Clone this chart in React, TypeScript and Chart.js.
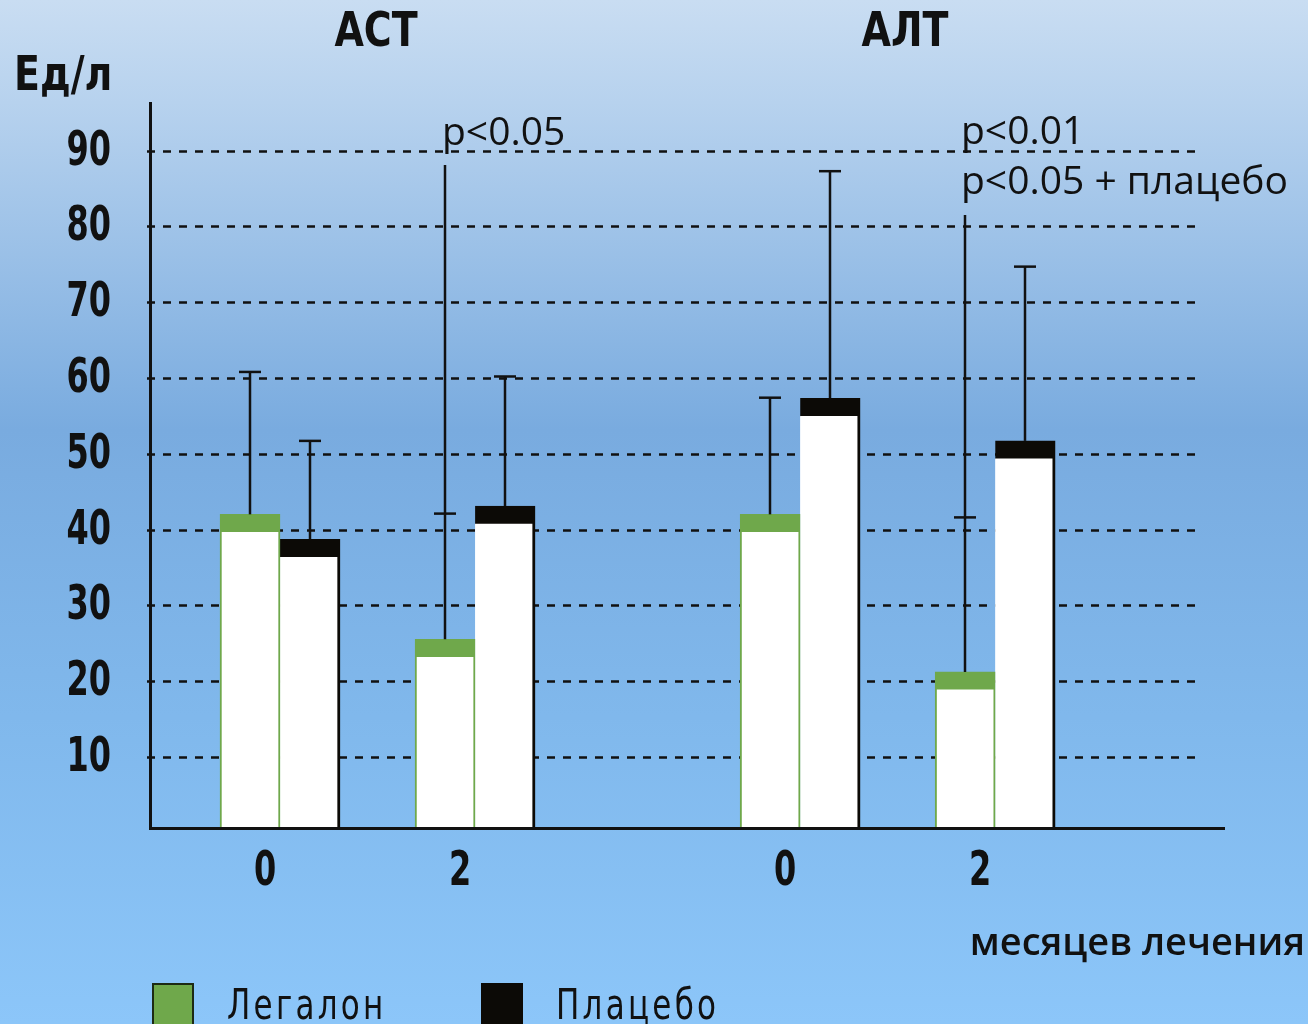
import React, { useEffect, useRef } from "react";
import { Chart, registerables } from "chart.js";

Chart.register(...registerables);

// ---- data ----
const groupTitles = ["АСТ", "АЛТ"];
const monthLabels = ["0", "2", "0", "2"];
const slots = [2, 5, 10, 13];
const seriesNames = ["Легалон", "Плацебо"];
const legalonValues = [42, 25.5, 42, 21.2];
const placeboValues = [38.7, 43.1, 57.3, 51.7];
const legalonErrTop = [60.8, 88.1, 57.4, 81.5];
const placeboErrTop = [51.7, 60.2, 87.3, 74.7];
const legalonErrCap = [true, false, true, false];
const placeboErrCap = [true, true, true, true];
const legalonMarks = [null, 42.1, null, 41.6];
const yTicks = [10, 20, 30, 40, 50, 60, 70, 80, 90];
const pNotes = ["p<0.05", "p<0.01", "p<0.05 + плацебо"];
const yUnit = "Ед/л";
const xUnit = "месяцев лечения";

const GREEN = "#6fa84b";
const BLACK = "#0c0a06";
const INK = "#111111";
const COND = "'DejaVu Sans Condensed', 'DejaVu Sans', sans-serif";
const SANS = "'Open Sans', 'Noto Sans', sans-serif";
const SX = 0.74; // horizontal squeeze for condensed digits
const SX_TITLE = 0.88; // squeeze for title letters

function drawSqueezed(
  ctx: CanvasRenderingContext2D,
  text: string,
  x: number,
  y: number,
  align: "left" | "center" | "right",
  sx: number
) {
  const w = ctx.measureText(text).width * sx;
  let left = x;
  if (align === "center") left = x - w / 2;
  else if (align === "right") left = x - w;
  ctx.save();
  ctx.translate(left, y);
  ctx.scale(sx, 1);
  ctx.textAlign = "left";
  ctx.fillText(text, 0, 0);
  ctx.restore();
}

export default function App() {
  const ref = useRef<HTMLCanvasElement | null>(null);

  useEffect(() => {
    document.body.style.margin = "0";
    document.body.style.overflow = "hidden";
    const canvas = ref.current;
    if (!canvas) return;

    const bgPlugin = {
      id: "bg",
      beforeDraw(chart: any) {
        const { ctx, width, height } = chart;
        const g = ctx.createLinearGradient(0, 0, 0, height);
        g.addColorStop(0, "#c9ddf2");
        g.addColorStop(0.1, "#b7d2ee");
        g.addColorStop(0.42, "#79abdf");
        g.addColorStop(0.7, "#80b8ec");
        g.addColorStop(1, "#8cc6f9");
        ctx.save();
        ctx.fillStyle = g;
        ctx.fillRect(0, 0, width, height);
        ctx.restore();
      },
    };

    const gridPlugin = {
      id: "dashGrid",
      beforeDatasetsDraw(chart: any) {
        const { ctx, chartArea, scales } = chart;
        ctx.save();
        ctx.strokeStyle = INK;
        ctx.lineWidth = 2.5;
        ctx.setLineDash([8, 8]);
        yTicks.forEach((v) => {
          const y = Math.round(scales.y.getPixelForValue(v)) + 0.5;
          ctx.beginPath();
          ctx.moveTo(chartArea.left - 3, y);
          ctx.lineTo(chartArea.right - 28, y);
          ctx.stroke();
        });
        ctx.restore();
      },
    };

    const errPlugin = {
      id: "errBars",
      afterDatasetsDraw(chart: any) {
        const { ctx, scales } = chart;
        const y = scales.y;
        const sets = [
          { vals: legalonValues, tops: legalonErrTop, caps: legalonErrCap, marks: legalonMarks },
          { vals: placeboValues, tops: placeboErrTop, caps: placeboErrCap, marks: [null, null, null, null] },
        ];
        ctx.save();
        ctx.strokeStyle = INK;
        ctx.lineWidth = 2.5;
        sets.forEach((s, di) => {
          const meta = chart.getDatasetMeta(di);
          meta.data.forEach((bar: any, i: number) => {
            const x = Math.round(bar.x);
            const y0 = y.getPixelForValue(s.vals[i]);
            const y1 = y.getPixelForValue(s.tops[i]);
            ctx.beginPath();
            ctx.moveTo(x, y0);
            ctx.lineTo(x, y1);
            ctx.stroke();
            if (s.caps[i]) {
              ctx.beginPath();
              ctx.moveTo(x - 11, y1);
              ctx.lineTo(x + 11, y1);
              ctx.stroke();
            }
            const m = s.marks[i];
            if (m != null) {
              const ym = y.getPixelForValue(m);
              ctx.beginPath();
              ctx.moveTo(x - 11, ym);
              ctx.lineTo(x + 11, ym);
              ctx.stroke();
            }
          });
        });
        ctx.restore();
      },
    };

    const textPlugin = {
      id: "texts",
      afterDraw(chart: any) {
        const { ctx, scales } = chart;
        ctx.save();
        ctx.fillStyle = INK;
        ctx.textBaseline = "alphabetic";
        ctx.font = `bold 48px ${COND}`;
        // y tick labels
        yTicks.forEach((v) => {
          const yy = scales.y.getPixelForValue(v);
          drawSqueezed(ctx, String(v), 111, yy + 14, "right", SX);
        });
        // x tick labels
        slots.forEach((s, i) => {
          const xx = scales.x.getPixelForValue(s) - 15;
          drawSqueezed(ctx, monthLabels[i], xx, 885, "center", SX);
        });
        // group titles
        drawSqueezed(ctx, groupTitles[0], 376, 46, "center", SX_TITLE);
        drawSqueezed(ctx, groupTitles[1], 905, 46, "center", SX_TITLE);
        // y unit
        drawSqueezed(ctx, yUnit, 14, 90, "left", SX_TITLE);
        // p notes
        ctx.font = `39px ${SANS}`;
        ctx.textAlign = "left";
        ctx.fillText(pNotes[0], 442, 145);
        ctx.fillText(pNotes[1], 961, 144);
        ctx.fillText(pNotes[2], 961, 194);
        // x unit
        ctx.font = `600 38px ${SANS}`;
        ctx.textAlign = "right";
        ctx.fillText(xUnit, 1305, 955);
        // legend
        const items = [
          { x: 152, color: GREEN, border: "#1d2a14", label: seriesNames[0], tx: 227 },
          { x: 481, color: BLACK, border: BLACK, label: seriesNames[1], tx: 556 },
        ];
        items.forEach((it) => {
          ctx.fillStyle = it.border;
          ctx.fillRect(it.x, 983, 42, 45);
          ctx.fillStyle = it.color;
          ctx.fillRect(it.x + 2, 985, 38, 43);
        });
        ctx.fillStyle = INK;
        ctx.font = `200 42px ${COND}`;
        (ctx as any).letterSpacing = "4px";
        items.forEach((it) => drawSqueezed(ctx, it.label, it.tx, 1019, "left", 0.82));
        ctx.restore();
      },
    };

    const chart = new Chart(canvas, {
      type: "bar",
      data: {
        datasets: [
          {
            label: seriesNames[0],
            data: slots.map((s, i) => ({ x: s, y: legalonValues[i] })),
            backgroundColor: "#ffffff",
            borderColor: GREEN,
            borderWidth: { top: 18, left: 2, right: 2, bottom: 0 } as any,
            borderSkipped: "start",
            barThickness: 60,
          },
          {
            label: seriesNames[1],
            data: slots.map((s, i) => ({ x: s, y: placeboValues[i] })),
            backgroundColor: "#ffffff",
            borderColor: BLACK,
            borderWidth: { top: 18, left: 0, right: 3, bottom: 0 } as any,
            borderSkipped: "start",
            barThickness: 60,
          },
        ],
      },
      options: {
        responsive: false,
        animation: false,
        layout: { padding: { left: 0, right: 84, top: 103, bottom: 0 } },
        plugins: {
          legend: { display: false },
          tooltip: { enabled: false },
          title: { display: false },
        },
        scales: {
          x: {
            type: "linear",
            offset: false,
            min: 0,
            max: 16.52,
            grid: { display: false, drawTicks: false, offset: false },
            border: { display: true, color: INK, width: 3, z: 2 },
            afterBuildTicks: (s: any) => {
              s.ticks = slots.map((v) => ({ value: v }));
            },
            afterFit: (s: any) => {
              s.height = 196;
            },
            ticks: { display: false },
          },
          y: {
            min: 0.6,
            max: 96.3,
            grid: { display: false, drawTicks: false },
            border: { display: true, color: INK, width: 3, z: 2 },
            afterBuildTicks: (s: any) => {
              s.ticks = yTicks.map((v) => ({ value: v }));
            },
            afterFit: (s: any) => {
              s.width = 150;
            },
            ticks: { display: false },
          },
        },
      },
      plugins: [bgPlugin, gridPlugin, errPlugin, textPlugin],
    } as any);

    return () => chart.destroy();
  }, []);

  return (
    <div style={{ width: 1308, height: 1024, position: "relative" }}>
      <canvas ref={ref} width={1308} height={1024} style={{ display: "block" }} />
    </div>
  );
}
